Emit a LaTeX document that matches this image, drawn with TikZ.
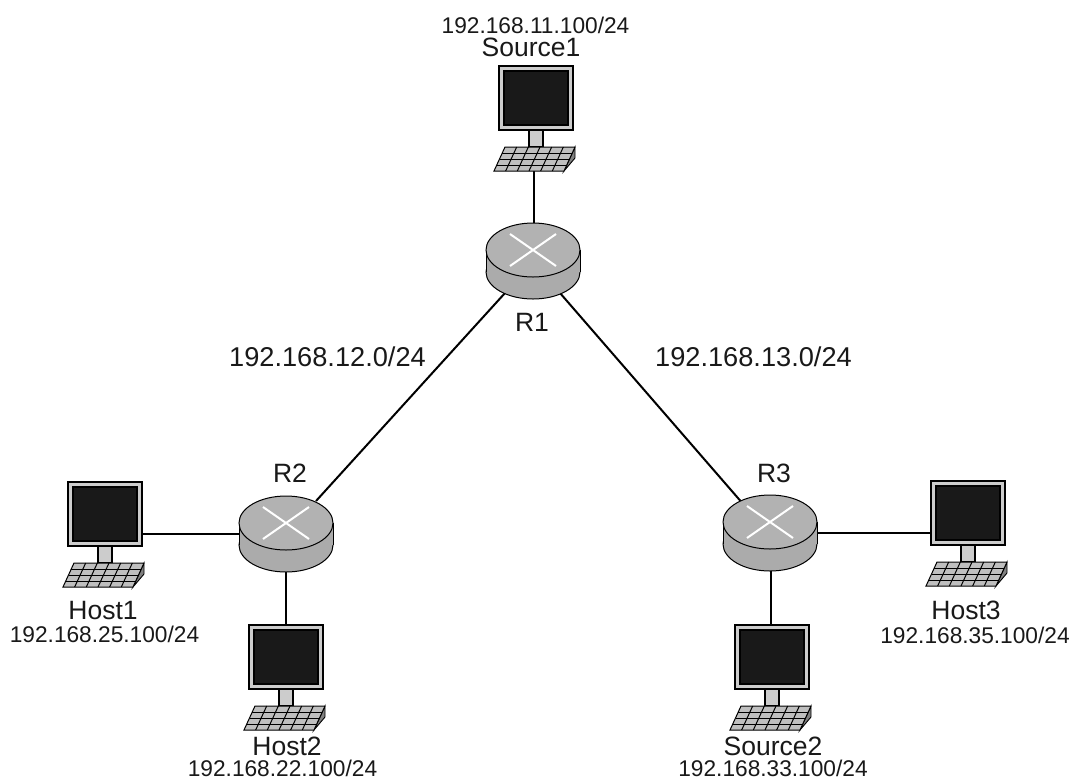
\documentclass[tikz,border=0pt]{standalone}
\usepackage{fontspec}
\setmainfont{Liberation Sans}
\usetikzlibrary{calc}
\definecolor{inkc}{gray}{0.1}
\tikzset{
  wire/.style={draw=black,line width=2pt},
  lbl/.style={inner sep=0pt,font=\fontsize{26.5}{27}\selectfont,text=inkc},
  ip/.style={inner sep=0pt,font=\fontsize{22.7}{23}\selectfont,text=inkc},
  net/.style={inner sep=0pt,font=\fontsize{27.2}{28}\selectfont,text=inkc},
  pics/computer/.style={code={
    % origin = monitor top-left
    \path[draw=black,line width=2pt,fill=black!20] (30,64) rectangle (44,81);
    \path[draw=black,line width=2pt,fill=black!20] (0,0) rectangle (74,64);
    \path[draw=black,line width=1.2pt,fill=inkc] (5,5) rectangle (69,59);
    \path[draw=black,line width=.9pt,fill=black!50] (76,81) -- (76,92) -- (65,105) -- cycle;
    \path[draw=black,line width=1pt,fill=black!25] (6,81) -- (76,81) -- (65,105) -- (-5,105) -- cycle;
    \foreach \t in {0.25,0.5,0.75}{
      \draw[black,line width=1pt] ($(6,81)!\t!(-5,105)$) -- ($(76,81)!\t!(65,105)$);}
    \foreach \t in {1,...,5}{
      \draw[black,line width=1pt] ($(6,81)!\t/6!(76,81)$) -- ($(-5,105)!\t/6!(65,105)$);}
  }},
  pics/router/.style={code={
    % origin = centre of the top ellipse
    \path[draw=black,line width=1pt,fill=black!33] (0,22) ellipse[x radius=47,y radius=27];
    \fill[black!33] (-46.5,0) rectangle (46.5,22);
    \draw[black,line width=1pt] (-47,0) -- (-47,22) (47,0) -- (47,22);
    \path[draw=black,line width=1pt,fill=black!30] (0,0) ellipse[x radius=47,y radius=27];
    \draw[white,line width=2pt] (-23,-16) -- (23,16) (-23,16) -- (23,-16);
  }}
}
\begin{document}
\begin{tikzpicture}[x=1pt,y=-1pt]
\useasboundingbox (0,0) rectangle (1070,780);
\fill[white] (0,0) rectangle (1070,780);
% connection points
\coordinate (r1t) at (534,230);
\coordinate (r1l) at (505,293);
\coordinate (r1r) at (560,293);
\coordinate (r2t) at (316,501);
\coordinate (r2l) at (245,534);
\coordinate (r2b) at (286,560);
\coordinate (r3t) at (744,505);
\coordinate (r3r) at (812,533);
\coordinate (r3b) at (770.5,560);
\coordinate (s1b) at (534,170);
\coordinate (h1r) at (142,534);
\coordinate (h2t) at (286,625);
\coordinate (s2t) at (770.5,625);
\coordinate (h3l) at (931,533);
\draw[wire] (s1b) -- (r1t);
\draw[wire] (r1l) -- (r2t);
\draw[wire] (r1r) -- (r3t);
\draw[wire] (h1r) -- (r2l);
\draw[wire] (r2b) -- (h2t);
\draw[wire] (r3b) -- (s2t);
\draw[wire] (r3r) -- (h3l);
\pic at (533,250) {router};
\pic at (286,523) {router};
\pic at (770,522) {router};
\pic at (499,66) {computer};
\pic at (68,482) {computer};
\pic at (249,625) {computer};
\pic at (735,625) {computer};
\pic at (931,481) {computer};
\node[ip] (ip1) at (535.5,25) {192.168.11.100/24};
\node[lbl] (s1) at (531,47) {Source1};
\node[lbl] (r1n) at (532,322) {R1};
\node[lbl] (r2n) at (290,473) {R2};
\node[lbl] (r3n) at (774,473) {R3};
\node[net] (n12) at (327.5,357) {192.168.12.0/24};
\node[net] (n13) at (753.5,357) {192.168.13.0/24};
\node[lbl] (h1) at (103,610) {Host1};
\node[ip] (ip25) at (104.5,634.5) {192.168.25.100/24};
\node[lbl] (h2) at (287,746) {Host2};
\node[ip] (ip22) at (282.5,768.5) {192.168.22.100/24};
\node[lbl] (s2) at (773,746) {Source2};
\node[ip] (ip33) at (773,768.5) {192.168.33.100/24};
\node[lbl] (h3) at (966,610) {Host3};
\node[ip] (ip35) at (975,635) {192.168.35.100/24};
\end{tikzpicture}
\end{document}
